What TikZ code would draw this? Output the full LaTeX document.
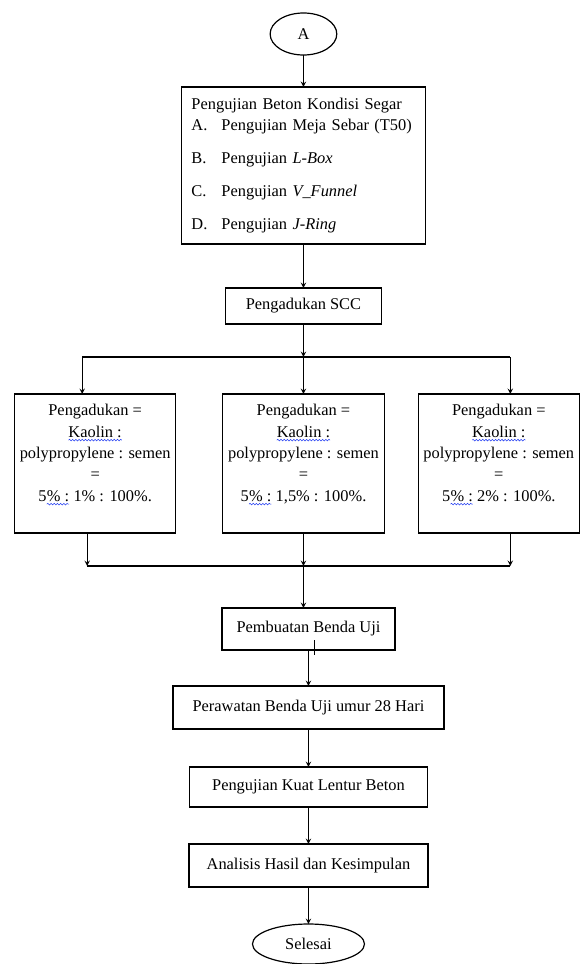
\documentclass[tikz,border=0pt]{standalone}
\usepackage{fontspec}
\setmainfont{Liberation Serif}
\usepackage{tikz}
\usetikzlibrary{shapes,arrows,positioning,calc,decorations.pathmorphing}
\definecolor{spellblue}{rgb}{0.15,0.25,0.95}
\newcommand\spellwave[1]{\tikz[baseline=(w.base)]{\node[inner sep=0pt, outer sep=0pt, draw=none, minimum width=0pt, minimum height=0pt, anchor=base] (w) at (0,0) {#1};
  \draw[spellblue, line width=0.4pt, decorate, decoration={snake, amplitude=0.6pt, segment length=2.4pt}]
    ([yshift=-2.2pt]w.base west) -- ([yshift=-2.2pt]w.base east);}}

\begin{document}
\begin{tikzpicture}[
      font=\fontsize{12.3}{15.75}\selectfont,
      box/.style={rectangle, draw, line width=0.9pt, text centered, inner sep=2pt, outer sep=0pt},
      bigbox/.style={box, text width=168pt, align=left, inner xsep=7.5pt, minimum width=183pt, minimum height=117.75pt},
      mixbox/.style={box, align=center, font=\fontsize{12.3}{16}\selectfont, minimum width=121pt, minimum height=104.25pt},
      term/.style={ellipse, draw, line width=0.9pt, inner sep=0pt, outer sep=0pt},
      arrow/.style={->, >=stealth, line width=0.8pt}
    ]
      \useasboundingbox (-227.6pt,25.5pt) rectangle (207.4pt,-697.5pt);

      \node[term, minimum width=50pt, minimum height=31.5pt] (conA) at (0,0) {A};
      \node[bigbox, below=24pt of conA] (segar) {Pengujian Beton Kondisi Segar\\
        \makebox[22.5pt][l]{A.}Pengujian Meja Sebar (T50)\\[9.5pt]
        \makebox[22.5pt][l]{B.}Pengujian \textit{L-Box}\\[9pt]
        \makebox[22.5pt][l]{C.}Pengujian \textit{V\_Funnel}\\[9pt]
        \makebox[22.5pt][l]{D.}Pengujian \textit{J-Ring}};
      \node[box, below=33pt of segar, minimum width=117pt, minimum height=27pt] (scc) {Pengadukan SCC};

      \node[mixbox, below=52.5pt of scc] (mixM) {Pengadukan =\\ \spellwave{Kaolin :}\\ polypropylene : semen\\ =\\ 5\spellwave{\% :} 1,5\% : 100\%.\\ ~};
      \node[mixbox, left=35.25pt of mixM] (mixL) {Pengadukan =\\ \spellwave{Kaolin :}\\ polypropylene : semen\\ =\\ 5\spellwave{\% :} 1\% : 100\%.\\ ~};
      \node[mixbox, right=25.5pt of mixM] (mixR) {Pengadukan =\\ \spellwave{Kaolin :}\\ polypropylene : semen\\ =\\ 5\spellwave{\% :} 2\% : 100\%.\\ ~};

      \node[box, below=56.25pt of mixM, xshift=3.75pt, minimum width=129.75pt, minimum height=31.5pt] (buat) {Pembuatan Benda Uji};
      \node[box, below=27pt of buat, minimum width=203.25pt, minimum height=32.25pt] (rawat) {Perawatan Benda Uji umur 28 Hari};
      \node[box, below=28.5pt of rawat, minimum width=178.5pt, minimum height=30pt] (kuat) {Pengujian Kuat Lentur Beton};
      \node[box, below=27.75pt of kuat, minimum width=179.25pt, minimum height=32.25pt] (analisis) {Analisis Hasil dan Kesimpulan};
      \node[term, below=27.75pt of analisis, minimum width=84pt, minimum height=30pt] (selesai) {Selesai};

      % branch to the three mixes
      \coordinate[below=24.75pt of scc] (split);
      \coordinate (brL) at ($(mixL.north |- split)+(-9.75pt,0)$);
      \coordinate (brR) at ($(mixR.north |- split)+(8.6pt,0)$);
      % join below the mixes
      \coordinate[below=24.75pt of mixM] (jnM);
      \coordinate (jnL) at ($(mixL.south |- jnM)+(-6pt,0)$);
      \coordinate (jnR) at (brR |- jnM);

      \draw[arrow] (conA) -- (segar);
      \draw[arrow] (segar) -- (scc);
      \draw[arrow] (scc) -- (split);
      \draw[line width=0.8pt] (brL) -- (brR);
      \draw[arrow] (brL) -- (brL |- mixL.north);
      \draw[arrow] (split) -- (mixM);
      \draw[arrow] (brR) -- (brR |- mixR.north);

      \draw[arrow] (jnL |- mixL.south) -- (jnL);
      \draw[arrow] (mixM) -- (jnM);
      \draw[arrow] (jnR |- mixR.south) -- (jnR);
      \draw[line width=0.8pt] (jnL) -- (jnR);
      \draw[arrow] (jnM) -- (jnM |- buat.north);
      \draw[line width=0.6pt] ([xshift=4.1pt,yshift=7.5pt]buat.south) -- ++(0,-11.25pt);

      \draw[arrow] (buat.south) -- (rawat.north);
      \draw[arrow] (rawat) -- (kuat);
      \draw[arrow] (kuat) -- (analisis);
      \draw[arrow] (analisis) -- (selesai);
    \end{tikzpicture}
\end{document}
